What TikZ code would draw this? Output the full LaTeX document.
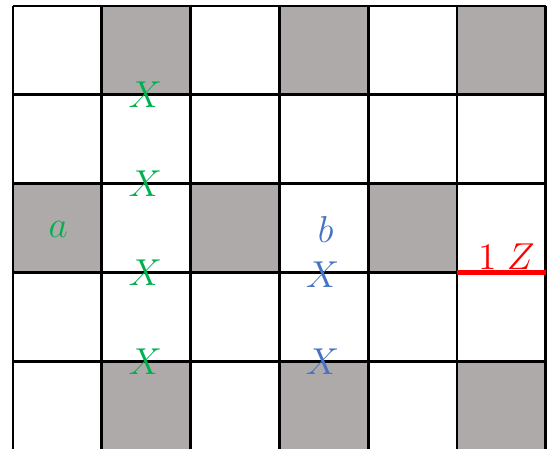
\documentclass[tikz,border=0pt]{standalone}
\usepackage{xcolor}
\usepackage{tikz}
\usetikzlibrary{positioning}
\definecolor{cellgray}{RGB}{174,170,169}
\definecolor{markgreen}{RGB}{0,176,80}
\definecolor{markblue}{RGB}{68,114,196}
\begin{document}
\begin{tikzpicture}[
x=1cm,
y=1cm,
every node/.style={font=\fontsize{11.5}{13}\selectfont,inner sep=0pt},
shade cell/.style={fill=cellgray},
gridline/.style={line width=0.9pt,black},
grn/.style={text=markgreen},
blu/.style={text=markblue},
cut/.style={draw=red,line width=1.6pt},
cutlbl/.style={text=red,anchor=south east}
]
\useasboundingbox (-0.146,0.068) rectangle (6.047,-4.977);
\clip (-0.146,0.068) rectangle (6.047,-4.977);
% shaded cells
\foreach \c in {1,3,5} {
  \fill[shade cell] (\c,0) rectangle ++(1,-1);
  \fill[shade cell] (\c,-4) rectangle ++(1,-1);
}
\foreach \c in {0,2,4}
  \fill[shade cell] (\c,-2) rectangle ++(1,-1);
\draw[gridline] (0,0) grid (6,-5);

% cut edge
\coordinate (zl) at (5,-3);
\coordinate (zr) at (6,-3);
\draw[cut] (zl) -- (zr);
\node[cutlbl] (zlbl) at (5.88,-2.97) {$1\;Z$};

% labels
\node[grn] (a) at (0.51,-2.51) {$a$};
\node[blu] (b) at (3.52,-2.52) {$b$};
\foreach \r in {1,2,3,4}
  \node[grn] (xa\r) at (1.49,-\r) {$X$};
\node[blu] (xb3) at (3.485,-3.02) {$X$};
\node[blu] (xb4) at (3.485,-4) {$X$};
\end{tikzpicture}
\end{document}
